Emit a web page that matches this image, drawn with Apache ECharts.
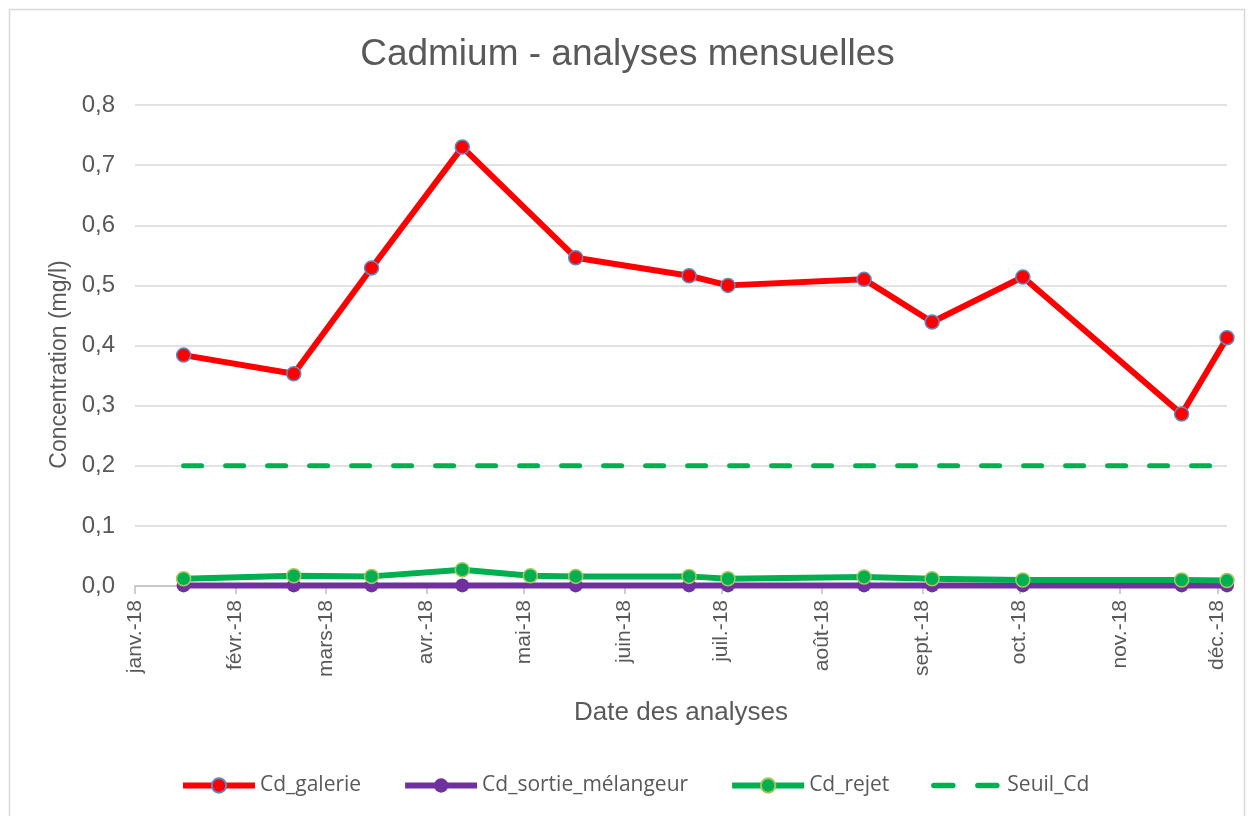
<!DOCTYPE html>
<html>
<head>
<meta charset="utf-8">
<title>Cadmium - analyses mensuelles</title>
<script src="https://cdn.jsdelivr.net/npm/echarts@6/dist/echarts.min.js"></script>
<style>
  html, body { margin: 0; padding: 0; background: #fff; }
  #chart { width: 1255px; height: 816px; }
</style>
</head>
<body>
<div id="chart"></div>
<script>
// dates des prélèvements
const galerieDates = ['2018-01-16', '2018-02-19', '2018-03-15', '2018-04-12', '2018-05-17', '2018-06-21',
  '2018-07-03', '2018-08-14', '2018-09-04', '2018-10-02', '2018-11-20', '2018-12-04']
const rejetDates = ['2018-01-16', '2018-02-19', '2018-03-15', '2018-04-12', '2018-05-03', '2018-05-17',
  '2018-06-21', '2018-07-03', '2018-08-14', '2018-09-04', '2018-10-02', '2018-11-20', '2018-12-04']

// valeurs (mg/l)
const cdGalerie = [0.384, 0.353, 0.529, 0.730, 0.546, 0.516, 0.500, 0.510, 0.439, 0.514, 0.286, 0.413]
const cdSortie = [0.001, 0.001, 0.001, 0.001, 0.001, 0.001, 0.001, 0.001, 0.001, 0.001, 0.001, 0.001]
const cdRejet = [0.012, 0.017, 0.016, 0.027, 0.017, 0.016, 0.016, 0.012, 0.015, 0.012, 0.010, 0.010, 0.009]
const seuilCd = [0.2, 0.2, 0.2, 0.2, 0.2, 0.2, 0.2, 0.2, 0.2, 0.2, 0.2, 0.2]

const monthLabels = ['janv.', 'févr.', 'mars', 'avr.', 'mai', 'juin', 'juil.', 'août', 'sept.', 'oct.', 'nov.', 'déc.']

const textColor = '#595959'
const gridColor = '#d9d9d9'

// jour -> timestamp (UTC)
function ts(s) {
  var p = s.split('-')
  return Date.UTC(+p[0], +p[1] - 1, +p[2])
}

function toPairs(dates, values) {
  return dates.map(function (d, i) { return [ts(d), values[i]] })
}

// graduations au 1er de chaque mois
var monthTicks = []
for (var m = 0; m < 12; m++) {
  monthTicks.push(Date.UTC(2018, m, 1))
}

// icône de légende en pointillés pour le seuil (deux tirets)
var dashIcon = 'path://M0,0L0.01,0L0,0.01Z M72,18L71.99,18L72,17.99Z ' +
  'M3.5,6.25H22.5A2.75,2.75,0,0,1,22.5,11.75H3.5A2.75,2.75,0,0,1,3.5,6.25Z ' +
  'M47.5,6.25H66.5A2.75,2.75,0,0,1,66.5,11.75H47.5A2.75,2.75,0,0,1,47.5,6.25Z'

var chart = echarts.init(document.getElementById('chart'), null, { renderer: 'canvas' })

var option = {
  backgroundColor: '#fff',
  animation: false,
  textStyle: { fontFamily: 'Liberation Sans, Arial, sans-serif' },
  graphic: [{
    type: 'rect',
    shape: { x: 9.5, y: 9.5, width: 1235, height: 830 },
    style: { fill: 'none', stroke: gridColor, lineWidth: 1.5 },
    silent: true
  }],
  title: {
    text: 'Cadmium - analyses mensuelles',
    left: 'center',
    top: 31,
    textStyle: { color: textColor, fontSize: 37, fontWeight: 'normal', fontFamily: 'Liberation Sans, Arial, sans-serif' }
  },
  legend: {
    top: 770,
    left: 175,
    itemWidth: 72,
    itemHeight: 18,
    itemGap: 41,
    lineStyle: { width: 6 },
    textStyle: { color: textColor, fontSize: 21, fontFamily: 'Open Sans, sans-serif' },
    data: [
      { name: 'Cd_galerie' },
      { name: 'Cd_sortie_mélangeur' },
      { name: 'Cd_rejet' },
      { name: 'Seuil_Cd', icon: dashIcon }
    ]
  },
  grid: { left: 135, right: 28, top: 105, bottom: 230 },
  xAxis: {
    type: 'value',
    min: Date.UTC(2018, 0, 1),
    max: ts('2018-12-04'),
    name: 'Date des analyses',
    nameLocation: 'middle',
    nameGap: 114,
    nameTextStyle: { color: textColor, fontSize: 26 },
    axisLine: { lineStyle: { color: '#bfbfbf', width: 1.5 } },
    axisTick: { show: true, length: 8, customValues: monthTicks, lineStyle: { color: '#bfbfbf', width: 1.5 } },
    axisLabel: {
      customValues: monthTicks,
      rotate: 90,
      margin: 14,
      color: textColor,
      fontSize: 21,
      formatter: function (val) {
        var d = new Date(val)
        return monthLabels[d.getUTCMonth()] + '-' + String(d.getUTCFullYear()).slice(2)
      }
    },
    splitLine: { show: false }
  },
  yAxis: {
    type: 'value',
    min: 0,
    max: 0.8,
    interval: 0.1,
    name: 'Concentration (mg/l)',
    nameLocation: 'middle',
    nameRotate: 90,
    nameGap: 63,
    nameTextStyle: { color: textColor, fontSize: 23, padding: [0, 38, 0, 0] },
    axisLine: { show: false },
    axisTick: { show: false },
    axisLabel: {
      color: textColor,
      fontSize: 24,
      margin: 20,
      formatter: function (v) { return v.toFixed(1).replace('.', ',') }
    },
    splitLine: { lineStyle: { color: gridColor, width: 1.5 } }
  },
  series: [
    {
      name: 'Cd_galerie',
      type: 'line',
      data: toPairs(galerieDates, cdGalerie),
      symbol: 'circle',
      symbolSize: 14,
      lineStyle: { color: '#ff0000', width: 6 },
      itemStyle: { color: '#ff0000', borderColor: '#5b8ac6', borderWidth: 1.5 },
      z: 4
    },
    {
      name: 'Cd_sortie_mélangeur',
      type: 'line',
      data: toPairs(galerieDates, cdSortie),
      symbol: 'circle',
      symbolSize: 14,
      lineStyle: { color: '#7030a0', width: 6 },
      itemStyle: { color: '#7030a0', borderWidth: 0 },
      z: 2
    },
    {
      name: 'Cd_rejet',
      type: 'line',
      data: toPairs(rejetDates, cdRejet),
      symbol: 'circle',
      symbolSize: 14,
      lineStyle: { color: '#00b050', width: 6 },
      itemStyle: { color: '#00b050', borderColor: '#a5c85a', borderWidth: 1.5 },
      z: 3
    },
    {
      name: 'Seuil_Cd',
      type: 'line',
      data: toPairs(galerieDates, seuilCd),
      symbol: 'none',
      lineStyle: { color: '#00b050', width: 5, type: [18, 24], cap: 'round' },
      itemStyle: { color: '#00b050' },
      z: 3
    }
  ]
}

chart.setOption(option)
</script>
</body>
</html>
